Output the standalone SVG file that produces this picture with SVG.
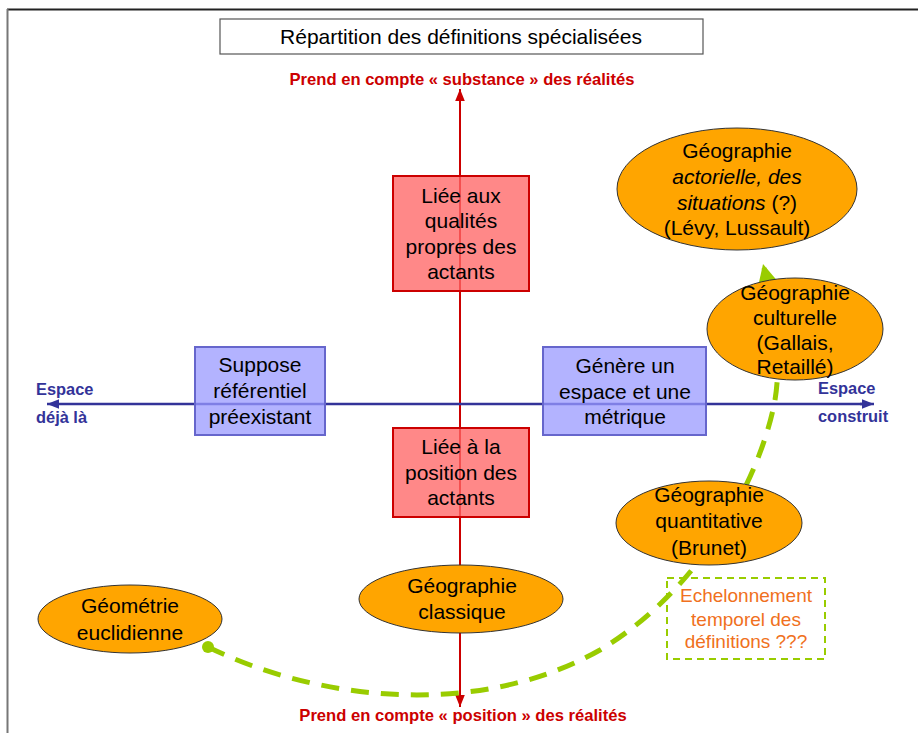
<svg xmlns="http://www.w3.org/2000/svg" width="918" height="733" viewBox="0 0 918 733">
<defs>
<style>
text{font-family:"Liberation Sans",Arial,sans-serif;}
.t{font-size:21px;fill:#000;text-anchor:middle;}
.axr{font-size:16.6px;font-weight:bold;fill:#cc0000;text-anchor:middle;}
.axb{font-size:16.4px;font-weight:bold;fill:#333399;}
.bbox{fill:#9999ff;fill-opacity:0.75;stroke:#6666cc;stroke-width:2;}
.rbox{fill:#ff6666;fill-opacity:0.78;stroke:#cc0000;stroke-width:2;}
.ell{fill:#ffa500;stroke:#333;stroke-width:1;}
.note{font-size:19px;fill:#f07020;text-anchor:middle;}
</style>
<marker id="ar" markerUnits="userSpaceOnUse" markerWidth="12" markerHeight="12" viewBox="0 0 10 10" refX="10" refY="5" orient="auto"><path d="M0,1 L10,5 L0,9 z" fill="#cc0000"/></marker>
<marker id="ab" markerUnits="userSpaceOnUse" markerWidth="12" markerHeight="12" viewBox="0 0 10 10" refX="10" refY="5" orient="auto"><path d="M0,1 L10,5 L0,9 z" fill="#333399"/></marker>
<marker id="ag" markerUnits="userSpaceOnUse" markerWidth="20" markerHeight="20" viewBox="0 0 10 10" refX="8" refY="5" orient="auto"><path d="M0,0 L10,5 L0,10 z" fill="#99cc00"/></marker>
<marker id="dg" markerUnits="userSpaceOnUse" markerWidth="12" markerHeight="12" viewBox="0 0 10 10" refX="5" refY="5"><circle cx="5" cy="5" r="5" fill="#99cc00"/></marker>
</defs>
<rect width="918" height="733" fill="#fff"/>
<g id="frame">
<line x1="7" y1="9.5" x2="918" y2="9.5" stroke="#222" stroke-width="2"/>
<line x1="7.5" y1="9" x2="7.5" y2="733" stroke="#777" stroke-width="2"/>
</g>
<g id="title">
<rect x="220" y="19" width="483" height="35" fill="#fff" stroke="#555" stroke-width="1.2"/>
<text x="461" y="44" style="font-size:21px;text-anchor:middle;">Répartition des définitions spécialisées</text>
</g>
<g id="connectors">
<line x1="460" y1="695" x2="460" y2="100" stroke="#cc0000" stroke-width="2"/>
<line x1="460" y1="98" x2="460" y2="89" stroke="#cc0000" stroke-width="2" marker-end="url(#ar)"/>
<line x1="460" y1="690" x2="460" y2="707" stroke="#cc0000" stroke-width="2" marker-end="url(#ar)"/>
<line x1="60" y1="404" x2="862" y2="404" stroke="#333399" stroke-width="2.5"/>
<line x1="60" y1="404" x2="47" y2="404" stroke="#333399" stroke-width="2.5" marker-end="url(#ab)"/>
<line x1="860" y1="404" x2="874" y2="404" stroke="#333399" stroke-width="2.5" marker-end="url(#ab)"/>
<path d="M208,647 C320,702 480,718 600,650 C700,590 760,480 775,400 C783,350 772,300 765,270" fill="none" stroke="#99cc00" stroke-width="5" stroke-dasharray="18 12" marker-start="url(#dg)"/>
<path d="M766,276 L764,268" fill="none" stroke="#99cc00" stroke-width="5" marker-end="url(#ag)"/>
</g>
<g id="label-top"><text class="axr" x="462" y="85">Prend en compte « substance » des réalités</text></g>
<g id="label-bottom"><text class="axr" x="463" y="721">Prend en compte « position » des réalités</text></g>
<g id="label-left"><text class="axb" x="36" y="395">Espace</text><text class="axb" x="36" y="423">déjà là</text></g>
<g id="label-right"><text class="axb" x="818" y="394">Espace</text><text class="axb" x="818" y="422">construit</text></g>
<g id="box-suppose">
<rect class="bbox" x="195" y="347" width="130" height="88"/>
<text class="t" x="260" y="372">Suppose</text><text class="t" x="260" y="398">référentiel</text><text class="t" x="260" y="424">préexistant</text>
</g>
<g id="box-genere">
<rect class="bbox" x="543" y="347" width="163" height="88"/>
<text class="t" x="625" y="373">Génère un</text><text class="t" x="625" y="399">espace et une</text><text class="t" x="625" y="424">métrique</text>
</g>
<g id="box-qualites">
<rect class="rbox" x="393" y="176" width="136" height="115"/>
<text class="t" x="461" y="203">Liée aux</text><text class="t" x="461" y="228">qualités</text><text class="t" x="461" y="254">propres des</text><text class="t" x="461" y="279">actants</text>
</g>
<g id="box-position">
<rect class="rbox" x="393" y="428" width="136" height="89"/>
<text class="t" x="461" y="454">Liée à la</text><text class="t" x="461" y="480">position des</text><text class="t" x="461" y="505">actants</text>
</g>
<g id="ell-actorielle">
<ellipse class="ell" cx="737" cy="189" rx="120" ry="61"/>
<text class="t" x="737" y="158">Géographie</text>
<text class="t" x="737" y="184" font-style="italic">actorielle, des</text>
<text class="t" x="737" y="210"><tspan font-style="italic">situations</tspan> (?)</text>
<text class="t" x="737" y="235">(Lévy, Lussault)</text>
</g>
<g id="ell-culturelle">
<ellipse class="ell" cx="795" cy="329" rx="88" ry="51"/>
<text class="t" x="795" y="300">Géographie</text><text class="t" x="795" y="325">culturelle</text><text class="t" x="795" y="350">(Gallais,</text><text class="t" x="795" y="374">Retaillé)</text>
</g>
<g id="ell-quantitative">
<ellipse class="ell" cx="709" cy="523" rx="93" ry="42"/>
<text class="t" x="709" y="502">Géographie</text><text class="t" x="709" y="528">quantitative</text><text class="t" x="709" y="555">(Brunet)</text>
</g>
<g id="ell-classique">
<ellipse class="ell" cx="461" cy="599" rx="102" ry="34"/>
<text class="t" x="462" y="593">Géographie</text><text class="t" x="462" y="619">classique</text>
</g>
<g id="ell-geometrie">
<ellipse class="ell" cx="130" cy="619" rx="92" ry="34"/>
<text class="t" x="130" y="613">Géométrie</text><text class="t" x="130" y="640">euclidienne</text>
</g>
<g id="note-echelonnement">
<rect x="667" y="578" width="158" height="81" fill="none" stroke="#99cc00" stroke-width="2" stroke-dasharray="7 5"/>
<text class="note" x="746" y="602">Echelonnement</text><text class="note" x="746" y="626">temporel des</text><text class="note" x="746" y="648">définitions ???</text>
</g>
</svg>
